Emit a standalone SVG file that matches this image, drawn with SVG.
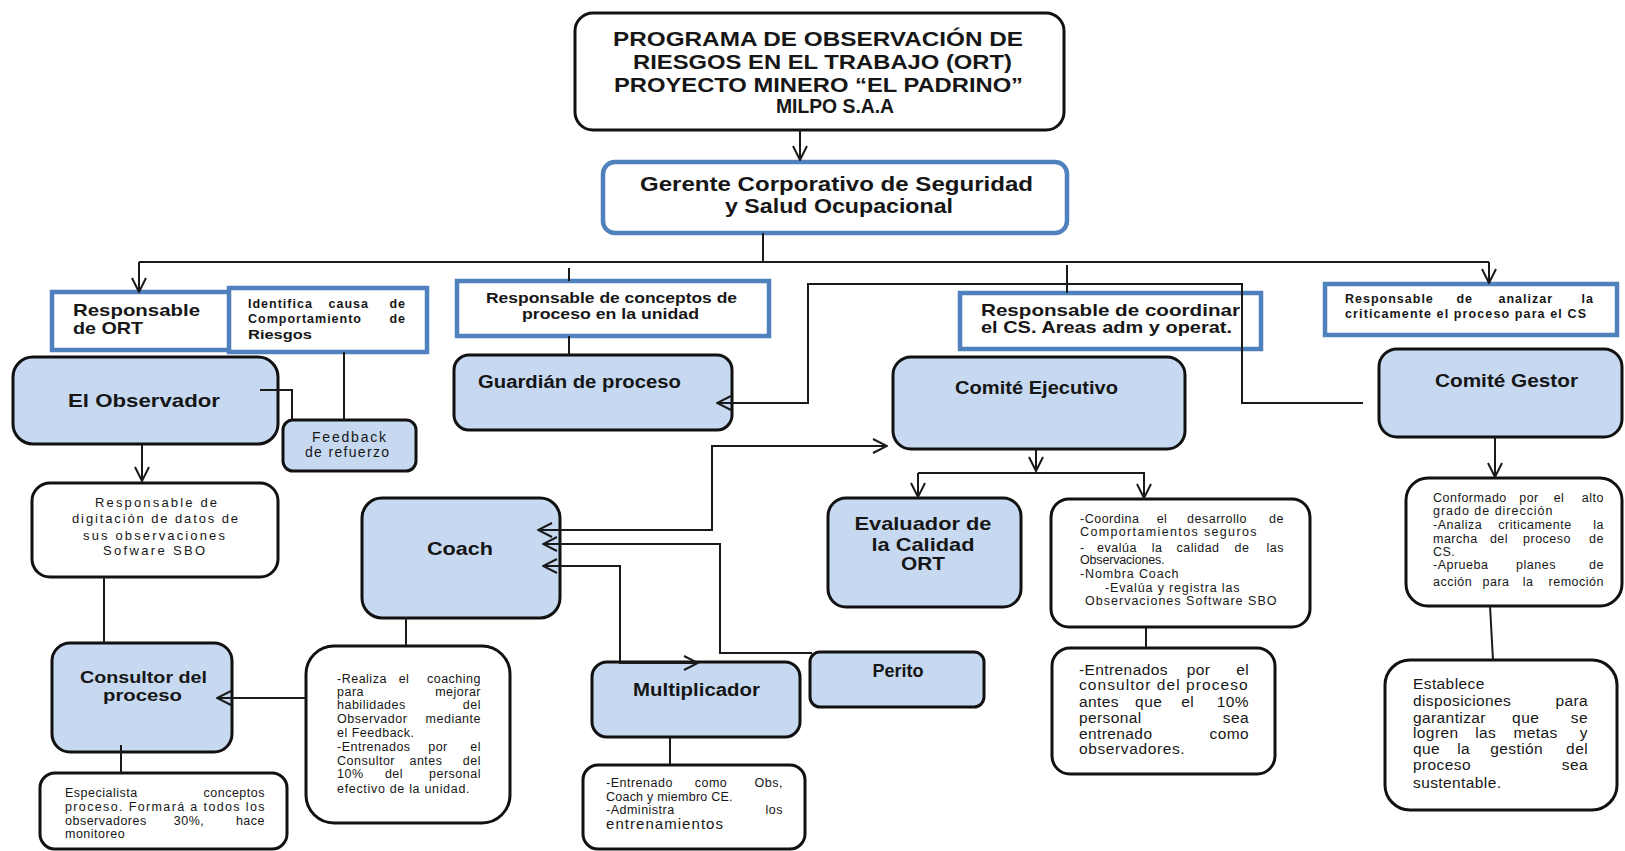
<svg xmlns="http://www.w3.org/2000/svg" width="1625" height="851" viewBox="0 0 1625 851">
<defs>
<style>
.n{stroke:#111;stroke-width:3}
.lb{fill:#c6d9f1}
.wh{fill:#fff}
.bl{fill:#fff;stroke:#4f81bd;stroke-width:4.5}
text{font-family:"Liberation Sans",Arial,sans-serif;fill:#161616}
.b{font-weight:bold}
.c{stroke:#1a1a1a;stroke-width:2;fill:none}
.s{font-size:12.5px;letter-spacing:0.5px}
.m{font-size:15.5px;letter-spacing:0.4px}
.sb{font-size:12.5px;font-weight:bold;letter-spacing:1px}
</style>
<marker id="ah" viewBox="0 0 16 16" refX="15" refY="8" markerWidth="16" markerHeight="16" markerUnits="userSpaceOnUse" orient="auto-start-reverse"><path d="M1,1 L15,8 L1,15" fill="none" stroke="#1a1a1a" stroke-width="2"/></marker>
</defs>
<rect width="1625" height="851" fill="#fff"/>

<g id="title">
<rect x="575" y="13" width="489" height="117" rx="18" class="n wh"/>
<text class="b" font-size="20" x="613" y="46" textLength="410" lengthAdjust="spacingAndGlyphs">PROGRAMA DE OBSERVACIÓN DE</text>
<text class="b" font-size="20" x="633" y="69" textLength="379" lengthAdjust="spacingAndGlyphs">RIESGOS EN EL TRABAJO (ORT)</text>
<text class="b" font-size="20" x="614" y="92" textLength="409" lengthAdjust="spacingAndGlyphs">PROYECTO MINERO “EL PADRINO”</text>
<text class="b" font-size="20" x="776" y="113" textLength="118" lengthAdjust="spacingAndGlyphs">MILPO S.A.A</text>
</g>

<g id="gerente">
<rect x="603" y="162" width="464" height="71" rx="12" class="bl"/>
<text class="b" font-size="20" x="640" y="191" textLength="393" lengthAdjust="spacingAndGlyphs">Gerente Corporativo de Seguridad</text>
<text class="b" font-size="20" x="725" y="213" textLength="228" lengthAdjust="spacingAndGlyphs">y Salud Ocupacional</text>
</g>

<g id="resp-ort">
<rect x="52" y="292" width="178" height="58" class="bl"/>
<text class="b" font-size="17" x="73" y="316" textLength="127" lengthAdjust="spacingAndGlyphs">Responsable</text>
<text class="b" font-size="17" x="73" y="334" textLength="70" lengthAdjust="spacingAndGlyphs">de ORT</text>
</g>

<g id="identifica">
<rect x="229" y="288" width="198" height="64" class="bl"/>
<text class="sb" y="308"><tspan x="248">Identifica</tspan> <tspan x="351" text-anchor="middle">causa</tspan> <tspan x="406" text-anchor="end">de</tspan></text>
<text class="sb" y="323"><tspan x="248">Comportamiento</tspan> <tspan x="406" text-anchor="end">de</tspan></text>
<text class="b" font-size="13.5" x="248" y="339" textLength="64" lengthAdjust="spacingAndGlyphs">Riesgos</text>
</g>

<g id="observador">
<rect x="13" y="357" width="265" height="87" rx="20" class="n lb"/>
<text class="b" font-size="19" x="68" y="407" textLength="152" lengthAdjust="spacingAndGlyphs">El Observador</text>
</g>

<g id="feedback">
<rect x="283" y="420" width="133" height="51" rx="10" class="n lb"/>
<text font-size="14" x="349" y="442" text-anchor="middle" textLength="74">Feedback</text>
<text font-size="14" x="347" y="457" text-anchor="middle" textLength="84">de refuerzo</text>
</g>

<g id="digitacion">
<rect x="32" y="483" width="246" height="94" rx="18" class="n wh"/>
<text font-size="13" x="156" y="507" text-anchor="middle" textLength="122">Responsable de</text>
<text font-size="13" x="155" y="523" text-anchor="middle" textLength="166">digitación de datos de</text>
<text font-size="13" x="154" y="540" text-anchor="middle" textLength="142">sus observaciones</text>
<text font-size="13" x="154" y="555" text-anchor="middle" textLength="102">Sofware SBO</text>
</g>

<g id="consultor">
<rect x="52" y="643" width="180" height="109" rx="18" class="n lb"/>
<text class="b" font-size="17" x="80" y="683" textLength="127" lengthAdjust="spacingAndGlyphs">Consultor del</text>
<text class="b" font-size="17" x="103" y="701" textLength="79" lengthAdjust="spacingAndGlyphs">proceso</text>
</g>

<g id="especialista">
<rect x="40" y="773" width="247" height="76" rx="15" class="n wh"/>
<text class="s" y="797"><tspan x="65">Especialista</tspan> <tspan x="265" text-anchor="end">conceptos</tspan></text>
<text class="s" x="65" y="811" textLength="200">proceso. Formará a todos los</text>
<text class="s" y="825"><tspan x="65">observadores</tspan> <tspan x="191" text-anchor="middle">30%,</tspan> <tspan x="265" text-anchor="end">hace</tspan></text>
<text class="s" x="65" y="838">monitoreo</text>
</g>

<g id="resp-conceptos">
<rect x="457" y="281" width="312" height="55" class="bl"/>
<text class="b" font-size="15" x="486" y="303" textLength="251" lengthAdjust="spacingAndGlyphs">Responsable de conceptos de</text>
<text class="b" font-size="15" x="522" y="319" textLength="177" lengthAdjust="spacingAndGlyphs">proceso en la unidad</text>
</g>

<g id="guardian">
<rect x="454" y="355" width="278" height="75" rx="15" class="n lb"/>
<text class="b" font-size="18" x="478" y="388" textLength="203" lengthAdjust="spacingAndGlyphs">Guardián de proceso</text>
</g>

<g id="coach">
<rect x="362" y="498" width="198" height="120" rx="20" class="n lb"/>
<text class="b" font-size="19" x="427" y="555" textLength="66" lengthAdjust="spacingAndGlyphs">Coach</text>
</g>

<g id="coach-desc">
<rect x="306" y="646" width="204" height="177" rx="28" class="n wh"/>
<text class="s" y="683"><tspan x="337">-Realiza</tspan> <tspan x="406" text-anchor="middle">el</tspan> <tspan x="481" text-anchor="end">coaching</tspan></text>
<text class="s" y="696"><tspan x="337">para</tspan> <tspan x="481" text-anchor="end">mejorar</tspan></text>
<text class="s" y="709"><tspan x="337">habilidades</tspan> <tspan x="481" text-anchor="end">del</tspan></text>
<text class="s" y="723"><tspan x="337">Observador</tspan> <tspan x="481" text-anchor="end">mediante</tspan></text>
<text class="s" x="337" y="737">el Feedback.</text>
<text class="s" y="751"><tspan x="337">-Entrenados</tspan> <tspan x="440" text-anchor="middle">por</tspan> <tspan x="481" text-anchor="end">el</tspan></text>
<text class="s" y="765"><tspan x="337">Consultor</tspan> <tspan x="428" text-anchor="middle">antes</tspan> <tspan x="481" text-anchor="end">del</tspan></text>
<text class="s" y="778"><tspan x="337">10%</tspan> <tspan x="396" text-anchor="middle">del</tspan> <tspan x="481" text-anchor="end">personal</tspan></text>
<text class="s" x="337" y="793" textLength="133">efectivo de la unidad.</text>
</g>

<g id="multiplicador">
<rect x="592" y="662" width="208" height="75" rx="15" class="n lb"/>
<text class="b" font-size="18" x="633" y="696" textLength="127" lengthAdjust="spacingAndGlyphs">Multiplicador</text>
</g>

<g id="mult-desc">
<rect x="583" y="765" width="222" height="84" rx="15" class="n wh"/>
<text class="s" y="787"><tspan x="606">-Entrenado</tspan> <tspan x="713" text-anchor="middle">como</tspan> <tspan x="783" text-anchor="end">Obs,</tspan></text>
<text class="s" x="606" y="801" textLength="127">Coach y miembro CE.</text>
<text class="s" y="814"><tspan x="606">-Administra</tspan> <tspan x="783" text-anchor="end">los</tspan></text>
<text font-size="15" x="606" y="829" textLength="117">entrenamientos</text>
</g>

<g id="perito">
<rect x="810" y="652" width="174" height="55" rx="10" class="n lb"/>
<text class="b" font-size="18" x="898" y="677" text-anchor="middle">Perito</text>
</g>

<g id="resp-coordinar">
<rect x="960" y="293" width="301" height="56" class="bl"/>
<text class="b" font-size="17" x="981" y="316" textLength="259" lengthAdjust="spacingAndGlyphs">Responsable de coordinar</text>
<text class="b" font-size="17" x="981" y="333" textLength="251" lengthAdjust="spacingAndGlyphs">el CS. Areas adm y operat.</text>
</g>

<g id="comite-ejecutivo">
<rect x="893" y="357" width="292" height="92" rx="18" class="n lb"/>
<text class="b" font-size="18" x="955" y="394" textLength="163" lengthAdjust="spacingAndGlyphs">Comité Ejecutivo</text>
</g>

<g id="evaluador">
<rect x="828" y="498" width="193" height="109" rx="18" class="n lb"/>
<text class="b" font-size="19" x="923" y="530" text-anchor="middle" textLength="137" lengthAdjust="spacingAndGlyphs">Evaluador de</text>
<text class="b" font-size="19" x="923" y="551" text-anchor="middle" textLength="103" lengthAdjust="spacingAndGlyphs">la Calidad</text>
<text class="b" font-size="19" x="923" y="570" text-anchor="middle" textLength="44" lengthAdjust="spacingAndGlyphs">ORT</text>
</g>

<g id="coordina">
<rect x="1051" y="499" width="259" height="128" rx="18" class="n wh"/>
<text class="s" y="523"><tspan x="1080">-Coordina</tspan> <tspan x="1164" text-anchor="middle">el</tspan> <tspan x="1219" text-anchor="middle">desarrollo</tspan> <tspan x="1284" text-anchor="end">de</tspan></text>
<text class="s" x="1080" y="536" textLength="177">Comportamientos seguros</text>
<text class="s" y="552"><tspan x="1080">-</tspan> <tspan x="1119" text-anchor="middle">evalúa</tspan> <tspan x="1159" text-anchor="middle">la</tspan> <tspan x="1200" text-anchor="middle">calidad</tspan> <tspan x="1244" text-anchor="middle">de</tspan> <tspan x="1284" text-anchor="end">las</tspan></text>
<text class="s" x="1080" y="564" textLength="85">Observaciones.</text>
<text class="s" x="1080" y="578" textLength="99">-Nombra Coach</text>
<text class="s" x="1105" y="592" textLength="135">-Evalúa y registra las</text>
<text class="s" x="1085" y="605" textLength="192">Observaciones Software SBO</text>
</g>

<g id="entrenados">
<rect x="1052" y="648" width="223" height="126" rx="18" class="n wh"/>
<text class="m" y="675"><tspan x="1079">-Entrenados</tspan> <tspan x="1201" text-anchor="middle">por</tspan> <tspan x="1249" text-anchor="end">el</tspan></text>
<text class="m" x="1079" y="690" textLength="169">consultor del proceso</text>
<text class="m" y="707"><tspan x="1079">antes</tspan> <tspan x="1151" text-anchor="middle">que</tspan> <tspan x="1190" text-anchor="middle">el</tspan> <tspan x="1249" text-anchor="end">10%</tspan></text>
<text class="m" y="723"><tspan x="1079">personal</tspan> <tspan x="1249" text-anchor="end">sea</tspan></text>
<text class="m" y="739"><tspan x="1079">entrenado</tspan> <tspan x="1249" text-anchor="end">como</tspan></text>
<text class="m" x="1079" y="754" textLength="106">observadores.</text>
</g>

<g id="resp-analizar">
<rect x="1325" y="284" width="292" height="51" class="bl"/>
<text class="sb" y="303"><tspan x="1345">Responsable</tspan> <tspan x="1467" text-anchor="middle">de</tspan> <tspan x="1528" text-anchor="middle">analizar</tspan> <tspan x="1594" text-anchor="end">la</tspan></text>
<text class="b" font-size="12.5" x="1345" y="318" textLength="241">criticamente el proceso para el CS</text>
</g>

<g id="comite-gestor">
<rect x="1379" y="349" width="243" height="88" rx="18" class="n lb"/>
<text class="b" font-size="18" x="1435" y="387" textLength="143" lengthAdjust="spacingAndGlyphs">Comité Gestor</text>
</g>

<g id="conformado">
<rect x="1406" y="478" width="216" height="128" rx="22" class="n wh"/>
<text class="s" y="502"><tspan x="1433">Conformado</tspan> <tspan x="1531" text-anchor="middle">por</tspan> <tspan x="1561" text-anchor="middle">el</tspan> <tspan x="1604" text-anchor="end">alto</tspan></text>
<text class="s" x="1433" y="515" textLength="120">grado de dirección</text>
<text class="s" y="529"><tspan x="1433">-Analiza</tspan> <tspan x="1537" text-anchor="middle">criticamente</tspan> <tspan x="1604" text-anchor="end">la</tspan></text>
<text class="s" y="543"><tspan x="1433">marcha</tspan> <tspan x="1501" text-anchor="middle">del</tspan> <tspan x="1549" text-anchor="middle">proceso</tspan> <tspan x="1604" text-anchor="end">de</tspan></text>
<text class="s" x="1433" y="556">CS.</text>
<text class="s" y="569"><tspan x="1433">-Aprueba</tspan> <tspan x="1538" text-anchor="middle">planes</tspan> <tspan x="1604" text-anchor="end">de</tspan></text>
<text class="s" y="586"><tspan x="1433">acción</tspan> <tspan x="1498" text-anchor="middle">para</tspan> <tspan x="1530" text-anchor="middle">la</tspan> <tspan x="1604" text-anchor="end">remoción</tspan></text>
</g>

<g id="establece">
<rect x="1385" y="660" width="232" height="150" rx="25" class="n wh"/>
<text class="m" x="1413" y="689">Establece</text>
<text class="m" y="706"><tspan x="1413">disposiciones</tspan> <tspan x="1588" text-anchor="end">para</tspan></text>
<text class="m" y="723"><tspan x="1413">garantizar</tspan> <tspan x="1528" text-anchor="middle">que</tspan> <tspan x="1588" text-anchor="end">se</tspan></text>
<text class="m" y="738"><tspan x="1413">logren</tspan> <tspan x="1488" text-anchor="middle">las</tspan> <tspan x="1538" text-anchor="middle">metas</tspan> <tspan x="1588" text-anchor="end">y</tspan></text>
<text class="m" y="754"><tspan x="1413">que</tspan> <tspan x="1466" text-anchor="middle">la</tspan> <tspan x="1519" text-anchor="middle">gestión</tspan> <tspan x="1588" text-anchor="end">del</tspan></text>
<text class="m" y="770"><tspan x="1413">proceso</tspan> <tspan x="1588" text-anchor="end">sea</tspan></text>
<text class="m" x="1413" y="788">sustentable.</text>
</g>

<g id="connectors">
<line class="c" x1="800" y1="130" x2="800" y2="160" marker-end="url(#ah)"/>
<line class="c" x1="763" y1="233" x2="763" y2="262"/>
<line class="c" x1="139" y1="262" x2="1489" y2="262" stroke-width="2.5"/>
<line class="c" x1="139" y1="262" x2="139" y2="292" marker-end="url(#ah)"/>
<line class="c" x1="1489" y1="262" x2="1489" y2="283" marker-end="url(#ah)"/>
<line class="c" x1="1067" y1="265" x2="1067" y2="293"/>
<line class="c" x1="569" y1="268" x2="569" y2="281"/>
<line class="c" x1="569" y1="336" x2="569" y2="355"/>
<path class="c" d="M1363,403 H1242 V284 H808 V403 H717" marker-end="url(#ah)"/>
<path class="c" d="M260,390 H292 V420"/>
<line class="c" x1="344" y1="352" x2="344" y2="420"/>
<line class="c" x1="142" y1="444" x2="142" y2="481" marker-end="url(#ah)"/>
<line class="c" x1="104" y1="577" x2="104" y2="643"/>
<line class="c" x1="306" y1="698" x2="217" y2="698" marker-end="url(#ah)"/>
<line class="c" x1="121" y1="745" x2="121" y2="773"/>
<line class="c" x1="406" y1="617" x2="406" y2="646"/>
<path class="c" d="M538,530 H712 V446 H887" marker-start="url(#ah)" marker-end="url(#ah)"/>
<path class="c" d="M543,544 H720 V653 H812" marker-start="url(#ah)" stroke="#555"/>
<path class="c" d="M543,566 H620 V663 H698" marker-start="url(#ah)" marker-end="url(#ah)"/>
<line class="c" x1="670" y1="737" x2="670" y2="765"/>
<line class="c" x1="1036" y1="449" x2="1036" y2="471" marker-end="url(#ah)"/>
<line class="c" x1="918" y1="473" x2="1145" y2="473" stroke-width="2.5"/>
<line class="c" x1="918" y1="473" x2="918" y2="497" marker-end="url(#ah)"/>
<line class="c" x1="1144" y1="473" x2="1144" y2="498" marker-end="url(#ah)"/>
<line class="c" x1="1146" y1="627" x2="1146" y2="648"/>
<line class="c" x1="1495" y1="437" x2="1495" y2="477" marker-end="url(#ah)"/>
<line class="c" x1="1490" y1="606" x2="1493" y2="660"/>
</g>
</svg>
